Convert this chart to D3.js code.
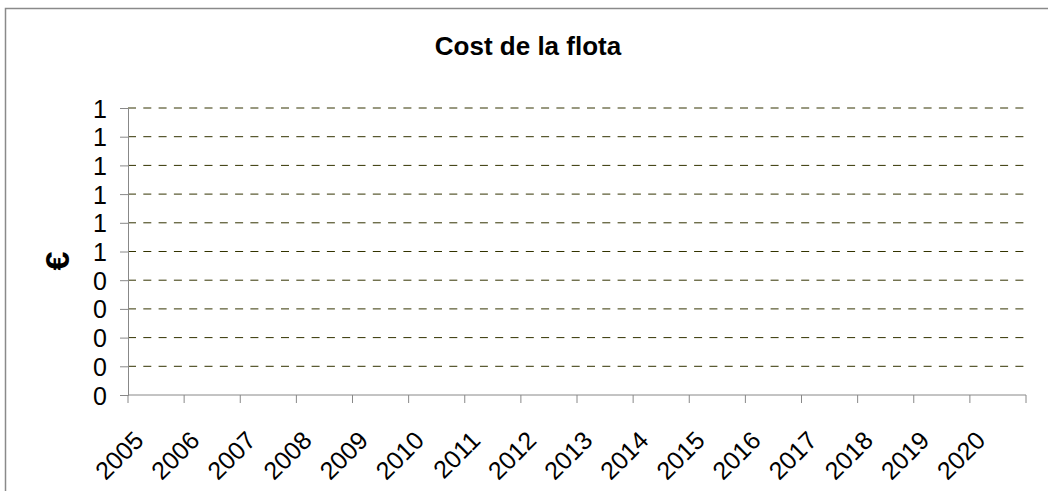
<!DOCTYPE html>
<html>
<head>
<meta charset="utf-8">
<script src="https://cdn.jsdelivr.net/npm/d3@7"></script>
<style>
  body { margin: 0; background: #fff; }
  svg { display: block; font-family: "Liberation Sans", Arial, sans-serif; }
</style>
</head>
<body>
<div id="chart"></div>
<script>
const years = ["2005", "2006", "2007", "2008", "2009", "2010", "2011", "2012",
               "2013", "2014", "2015", "2016", "2017", "2018", "2019", "2020"];
const yTicks = [0, 0.1, 0.2, 0.3, 0.4, 0.5, 0.6, 0.7, 0.8, 0.9, 1.0];
const costs = [];   // no series values shown in the chart
const title = "Cost de la flota";
const yTitle = "€";

const width = 1048, height = 491;
const plot = { left: 128, right: 1026, top: 108, bottom: 395 };

const svg = d3.select("#chart").append("svg")
    .attr("width", width)
    .attr("height", height);

// outer frame
svg.append("rect")
    .attr("x", 5.5).attr("y", 8.5)
    .attr("width", width).attr("height", height)
    .attr("fill", "white")
    .attr("stroke", "#8a8a8a")
    .attr("stroke-width", 1.5);

const x = d3.scaleBand()
    .domain(years)
    .range([plot.left, plot.right]);

const y = d3.scaleLinear()
    .domain([0, 1])
    .range([plot.bottom, plot.top]);

// gridlines
svg.append("g")
    .selectAll("line")
    .data(yTicks.slice(1))
    .enter()
    .append("line")
    .attr("x1", plot.left)
    .attr("x2", plot.right)
    .attr("y1", d => y(d))
    .attr("y2", d => y(d))
    .attr("stroke", "#333300")
    .attr("stroke-width", 1)
    .attr("stroke-dasharray", "8,7.3");

// y axis
const yAxis = svg.append("g")
    .attr("transform", `translate(${plot.left},0)`)
    .call(d3.axisLeft(y).tickValues(yTicks).tickSize(8).tickPadding(13)
        .tickFormat(d => Math.round(d)));
yAxis.select(".domain").attr("stroke", "#888");
yAxis.selectAll(".tick line").attr("stroke", "#888");
yAxis.selectAll("text")
    .attr("dy", "0.36em")
    .style("font-size", "25px")
    .attr("fill", "#000");

// x axis, ticks between categories
const xAxis = svg.append("g")
    .attr("transform", `translate(0,${plot.bottom})`);
xAxis.append("line")
    .attr("x1", plot.left).attr("x2", plot.right)
    .attr("stroke", "#888");
xAxis.selectAll(".cat-tick")
    .data(years.concat(["end"]))
    .enter()
    .append("line")
    .attr("class", "cat-tick")
    .attr("x1", (d, i) => plot.left + i * x.bandwidth())
    .attr("x2", (d, i) => plot.left + i * x.bandwidth())
    .attr("y1", 0).attr("y2", 8)
    .attr("stroke", "#888");
xAxis.selectAll(".cat-label")
    .data(years)
    .enter()
    .append("text")
    .attr("class", "cat-label")
    .attr("transform", d => `translate(${x(d) + x.bandwidth() / 2 - 11},${47}) rotate(-45)`)
    .attr("text-anchor", "end")
    .style("font-size", "25px")
    .text(d => d);

// titles
svg.append("text")
    .attr("x", 528)
    .attr("y", 55)
    .attr("text-anchor", "middle")
    .style("font-size", "26px")
    .style("font-weight", "bold")
    .text(title);

svg.append("text")
    .attr("transform", "translate(69,261) rotate(-90)")
    .attr("text-anchor", "middle")
    .style("font-size", "34px")
    .style("font-weight", "bold")
    .text(yTitle);
</script>
</body>
</html>
